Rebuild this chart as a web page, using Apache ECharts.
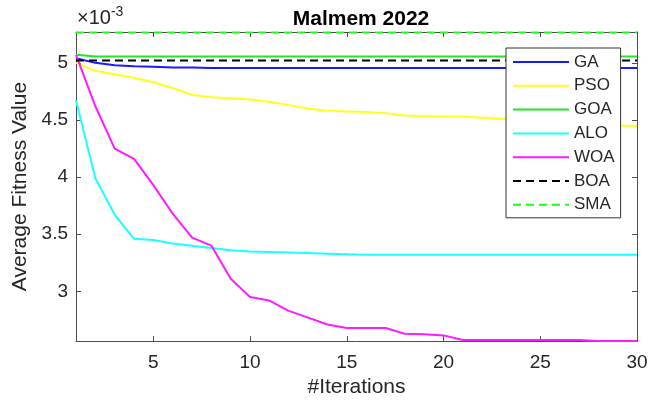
<!DOCTYPE html>
<html>
<head>
<meta charset="utf-8">
<script src="https://cdn.jsdelivr.net/npm/echarts@6/dist/echarts.min.js"></script>
<style>
html,body{margin:0;padding:0;background:#fff;}
#chart{width:661px;height:403px;}
</style>
</head>
<body>
<div id="chart"></div>
<script>
// Values in units of 1e-3
const iterations = Array.from({length: 30}, (_, i) => i + 1);
const GA  = [5.04,5.00,4.98,4.97,4.965,4.96,4.96,4.955,4.955,4.955,4.955,4.955,4.955,4.955,4.955,4.955,4.955,4.955,4.955,4.955,4.955,4.955,4.955,4.955,4.955,4.955,4.955,4.955,4.955,4.955];
const PSO = [5.00,4.93,4.90,4.87,4.83,4.78,4.72,4.70,4.69,4.68,4.66,4.63,4.60,4.58,4.575,4.57,4.56,4.54,4.535,4.53,4.53,4.52,4.51,4.50,4.50,4.50,4.49,4.46,4.45,4.45];
const GOA = [5.07,5.055,5.055,5.055,5.055,5.055,5.055,5.055,5.055,5.055,5.055,5.055,5.055,5.055,5.055,5.055,5.055,5.055,5.055,5.055,5.055,5.055,5.055,5.055,5.055,5.055,5.055,5.055,5.055,5.055];
const ALO = [4.67,3.99,3.67,3.46,3.45,3.42,3.40,3.38,3.36,3.35,3.345,3.34,3.335,3.33,3.325,3.32,3.32,3.32,3.32,3.32,3.32,3.32,3.32,3.32,3.32,3.32,3.32,3.32,3.32,3.32];
const WOA = [5.07,4.62,4.25,4.16,3.93,3.68,3.47,3.40,3.11,2.95,2.92,2.83,2.77,2.71,2.68,2.68,2.68,2.63,2.625,2.615,2.575,2.575,2.575,2.575,2.575,2.575,2.575,2.565,2.565,2.565];
const BOA = [5.02,5.02,5.02,5.02,5.02,5.02,5.02,5.02,5.02,5.02,5.02,5.02,5.02,5.02,5.02,5.02,5.02,5.02,5.02,5.02,5.02,5.02,5.02,5.02,5.02,5.02,5.02,5.02,5.02,5.02];
const SMA = [5.265,5.265,5.265,5.265,5.265,5.265,5.265,5.265,5.265,5.265,5.265,5.265,5.265,5.265,5.265,5.265,5.265,5.265,5.265,5.265,5.265,5.265,5.265,5.265,5.265,5.265,5.265,5.265,5.265,5.265];

const seriesDefs = [
  {name:'GA',  data:GA,  color:'#1a1aff', type:'solid'},
  {name:'PSO', data:PSO, color:'#ffff1a', type:'solid'},
  {name:'GOA', data:GOA, color:'#22e622', type:'solid'},
  {name:'ALO', data:ALO, color:'#1affff', type:'solid'},
  {name:'WOA', data:WOA, color:'#ff1aff', type:'solid'},
  {name:'BOA', data:BOA, color:'#000000', type:[8,5]},
  {name:'SMA', data:SMA, color:'#1aff1a', type:[8,5]}
];

const FONT = 'Liberation Sans, Arial, Helvetica, sans-serif';
const axisCol = '#4d4d4d';
const textCol = '#262626';

const chart = echarts.init(document.getElementById('chart'), null, {renderer:'canvas'});
const option = {
  backgroundColor:'#fff',
  animation:false,
  title:{
    text:'Malmem 2022', left:356, top:4, textAlign:'center',
    textStyle:{fontFamily:FONT, fontSize:21, fontWeight:'bold', color:'#000'}
  },
  graphic:[{
    type:'text', left:77, top:5,
    style:{
      text:'{a|×10}{b|-3}',
      rich:{
        a:{fontFamily:FONT, fontSize:20, fill:textCol, verticalAlign:'bottom'},
        b:{fontFamily:FONT, fontSize:14, fill:textCol, verticalAlign:'top', padding:[0,0,9,0]}
      }
    }
  }],
  legend:{
    orient:'vertical', left:506, top:48,
    padding:[5,6,4,6],
    itemWidth:56, itemHeight:18, itemGap:5.8,
    backgroundColor:'#fff', borderColor:'#333', borderWidth:1,
    textStyle:{fontFamily:FONT, fontSize:17, color:textCol, lineHeight:18},
    itemStyle:{opacity:0},
    data:seriesDefs.map(s=>s.name)
  },
  grid:{left:76, right:24, top:32, bottom:61, containLabel:false},
  xAxis:[{
    type:'value', min:1, max:30,
    name:'#Iterations', nameLocation:'middle', nameGap:34,
    nameTextStyle:{fontFamily:FONT, fontSize:21, color:textCol},
    axisLine:{show:true, lineStyle:{color:axisCol, width:1}},
    axisTick:{show:true, inside:true, length:5, lineStyle:{color:axisCol}},
    axisLabel:{fontFamily:FONT, fontSize:19, color:textCol, margin:12, showMinLabel:false},
    splitLine:{show:false}
  },{
    type:'value', min:1, max:30, position:'top',
    axisLine:{show:true, lineStyle:{color:axisCol, width:1}},
    axisTick:{show:true, inside:true, length:5, lineStyle:{color:axisCol}},
    axisLabel:{show:false}, splitLine:{show:false}
  }],
  yAxis:[{
    type:'value', min:2.565, max:5.27,
    name:'Average Fitness Value', nameLocation:'middle', nameGap:40, nameRotate:90,
    nameTextStyle:{fontFamily:FONT, fontSize:21, color:textCol},
    axisLine:{show:true, lineStyle:{color:axisCol, width:1}},
    axisTick:{show:true, inside:true, length:5, lineStyle:{color:axisCol}},
    axisLabel:{fontFamily:FONT, fontSize:19, color:textCol, margin:8, showMinLabel:false, showMaxLabel:false},
    splitLine:{show:false}
  },{
    type:'value', min:2.565, max:5.27, position:'right',
    axisLine:{show:true, lineStyle:{color:axisCol, width:1}},
    axisTick:{show:true, inside:true, length:5, lineStyle:{color:axisCol}},
    axisLabel:{show:false}, splitLine:{show:false}
  }],
  series:seriesDefs.map(s=>({
    name:s.name, type:'line', xAxisIndex:0, yAxisIndex:0,
    data:iterations.map((x,i)=>[x, s.data[i]]),
    symbol:'none', showSymbol:false,
    lineStyle:{color:s.color, width:2, type:s.type},
    itemStyle:{color:s.color},
    emphasis:{disabled:true}
  }))
};
chart.setOption(option);
</script>
</body>
</html>
